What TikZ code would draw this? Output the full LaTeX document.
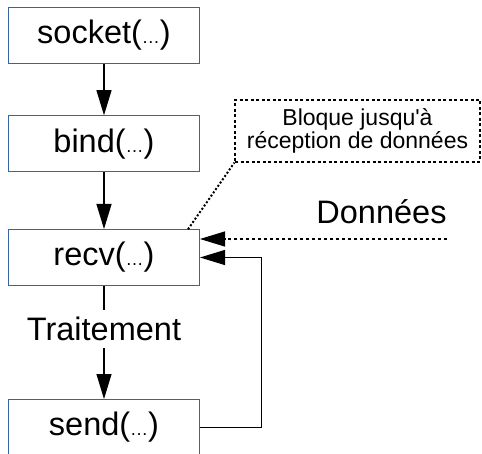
\documentclass[tikz,border=0pt]{standalone}
\usepackage{fontspec}
\setmainfont{Liberation Sans}
\usetikzlibrary{arrows.meta}
\definecolor{boxblue}{HTML}{3465A4}
\newcommand{\smalldots}{{\fontsize{18}{18}\selectfont…}}
\tikzset{
  fnbox/.style={draw=boxblue, line width=1pt, minimum width=191pt, minimum height=56pt, inner sep=0pt, font=\fontsize{32.5}{36}\selectfont},
  bigtext/.style={inner sep=0pt, font=\fontsize{32.5}{36}\selectfont},
  flow/.style={line width=1.2pt, -{Triangle[length=25pt,width=15pt]}},
  plain/.style={line width=1.2pt},
  note/.style={draw, line width=1.2pt, dash pattern=on 3pt off 2.5pt, minimum width=245pt, minimum height=62pt, inner sep=0pt, align=center, font=\fontsize{23}{23.5}\selectfont},
}
\begin{document}
\begin{tikzpicture}[x=1pt,y=-1pt]
\useasboundingbox (0,0) rectangle (482,454);
\node[fnbox] (socket) at (104,35.3) {socket(\smalldots)};
\node[fnbox] (bind) at (104,143.7) {bind(\smalldots)};
\node[fnbox] (recv) at (104,257.5) {recv(\smalldots)};
\node[fnbox] (send) at (104,427.5) {send(\smalldots)};
\node[bigtext, minimum height=38pt] (trait) at (104,329) {Traitement};
\node[bigtext] (donnees) at (381.5,212) {Données};
\node[note] (note) at (357.5,131) {Bloque jusqu\textquotesingle à\\réception de données};
\coordinate (rtop) at (188,229.3);
\coordinate (din) at (447,239);
\draw[flow] (socket) -- (bind);
\draw[flow] (bind) -- (recv);
\draw[plain] (recv) -- (trait);
\draw[flow] (trait) -- (send);
\draw[line width=1.2pt, -{Triangle[length=25pt,width=15pt]}] (send.east) -- ++(61.2,0) |- (recv.east);
\draw[line width=1.2pt, dash pattern=on 3pt off 3pt, -{Triangle[length=25pt,width=15pt]}] (din) -- (recv.east |- din);
\draw[line width=2pt, dash pattern=on 2pt off 2pt] (rtop) -- (note.south west);
\end{tikzpicture}
\end{document}
